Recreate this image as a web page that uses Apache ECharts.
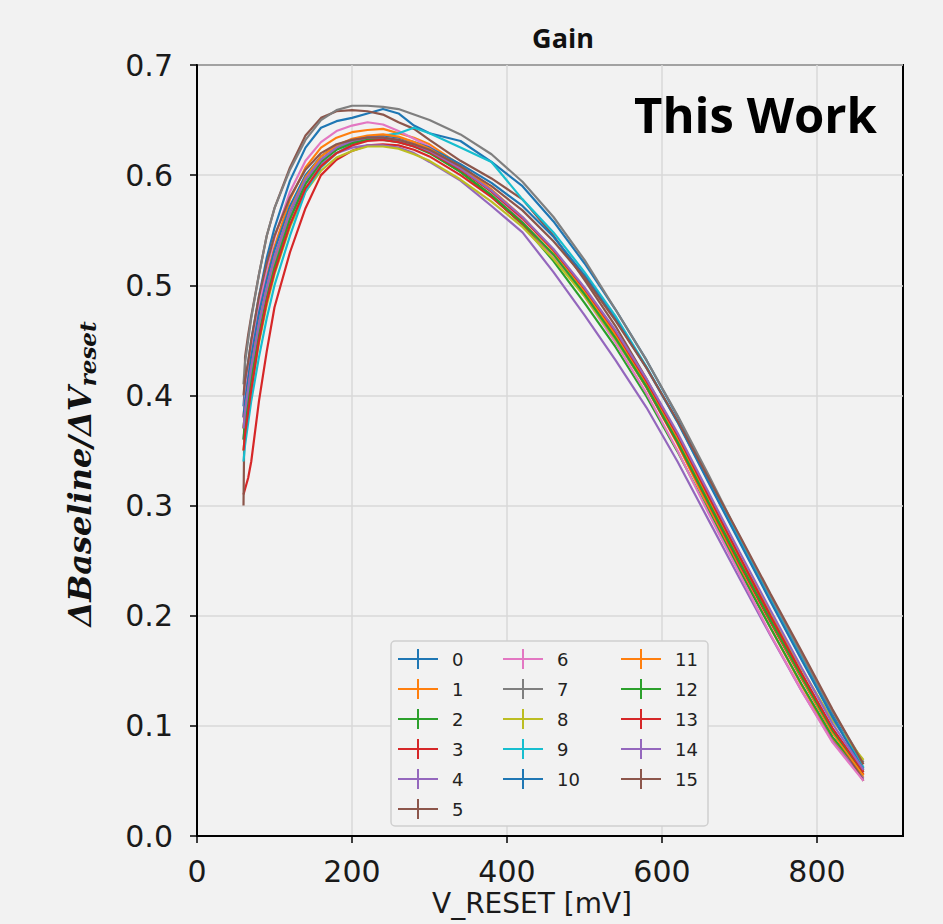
<!DOCTYPE html>
<html>
<head>
<meta charset="utf-8">
<title>Gain</title>
<script src="https://cdn.jsdelivr.net/npm/echarts@6/dist/echarts.min.js"></script>
<style>
  html, body { margin: 0; padding: 0; background: #f2f2f2; }
  #main { width: 943px; height: 924px; }
</style>
</head>
<body>
<div id="main"></div>
<script>
// V_RESET sweep [mV]
var vReset = [60, 62, 66, 70, 80, 90, 100, 120, 140, 160, 180, 200, 220, 240, 260, 280, 300,
              340, 380, 420, 460, 500, 540, 580, 620, 660, 700, 740, 780, 820, 860];

// gain per channel
var gain0  = [.39, .41, .43, .45, .49, .525, .552, .595, .625, .643, .649, .652, .656, .66, .656, .645, .638, .631, .612, .59, .558, .52, .478, .432, .381, .325, .27, .216, .163, .11, .062];
var gain1  = [.38, .395, .415, .435, .475, .508, .535, .578, .607, .625, .634, .639, .641, .642, .638, .634, .628, .609, .587, .562, .532, .495, .453, .408, .356, .299, .243, .189, .137, .088, .053];
var gain2  = [.37, .385, .405, .425, .465, .497, .525, .566, .596, .614, .624, .630, .633, .633, .631, .627, .621, .603, .581, .555, .522, .484, .444, .399, .349, .295, .241, .189, .138, .09, .055];
var gain3  = [.31, .315, .325, .34, .395, .44, .48, .53, .57, .60, .614, .622, .627, .628, .627, .623, .617, .60, .58, .556, .527, .492, .452, .407, .357, .302, .247, .194, .143, .094, .056];
var gain4  = [.36, .38, .40, .42, .46, .492, .52, .562, .592, .61, .62, .625, .627, .627, .625, .62, .612, .595, .572, .548, .512, .473, .432, .389, .34, .287, .234, .182, .132, .086, .052];
var gain5  = [.30, .435, .455, .472, .51, .545, .57, .607, .636, .652, .658, .659, .658, .655, .648, .642, .632, .613, .597, .578, .545, .505, .463, .415, .364, .308, .253, .199, .147, .097, .05];
var gain6  = [.38, .40, .42, .44, .48, .515, .543, .585, .613, .63, .64, .645, .648, .646, .64, .633, .626, .606, .585, .558, .527, .49, .448, .402, .35, .293, .238, .183, .132, .085, .05];
var gain7  = [.41, .43, .45, .47, .51, .545, .57, .605, .632, .65, .659, .663, .663, .662, .66, .655, .65, .637, .619, .594, .562, .523, .478, .432, .382, .328, .272, .218, .165, .113, .067];
var gain8  = [.35, .365, .385, .405, .448, .482, .51, .553, .585, .604, .616, .622, .626, .626, .624, .619, .613, .596, .576, .553, .524, .49, .451, .408, .36, .307, .254, .202, .152, .105, .069];
var gain9  = [.34, .355, .375, .395, .435, .47, .50, .545, .585, .607, .62, .628, .633, .636, .638, .643, .638, .625, .612, .578, .548, .512, .472, .426, .376, .322, .268, .214, .161, .108, .062];
var gain10 = [.38, .395, .415, .435, .475, .505, .532, .572, .60, .617, .627, .632, .635, .636, .634, .63, .625, .61, .593, .572, .544, .509, .469, .425, .376, .321, .267, .213, .16, .108, .06];
var gain11 = [.37, .385, .405, .425, .465, .497, .525, .568, .598, .617, .627, .633, .636, .637, .635, .63, .624, .607, .586, .561, .531, .495, .455, .41, .36, .305, .25, .196, .144, .094, .055];
var gain12 = [.36, .375, .395, .415, .455, .488, .516, .56, .592, .612, .623, .629, .632, .632, .63, .626, .62, .603, .582, .557, .528, .492, .452, .408, .358, .303, .249, .196, .145, .096, .058];
var gain13 = [.35, .365, .385, .405, .45, .485, .512, .555, .588, .608, .62, .627, .631, .632, .63, .626, .621, .605, .585, .561, .532, .497, .458, .413, .364, .309, .254, .20, .148, .098, .058];
var gain14 = [.37, .385, .405, .425, .465, .498, .526, .567, .596, .614, .625, .631, .634, .634, .632, .628, .622, .606, .586, .562, .533, .498, .459, .415, .366, .312, .258, .205, .153, .102, .06];
var gain15 = [.40, .415, .43, .45, .49, .52, .545, .58, .605, .62, .628, .632, .634, .634, .632, .628, .623, .608, .59, .568, .54, .507, .468, .425, .377, .325, .273, .22, .168, .115, .065];

var channels = ['0', '1', '2', '3', '4', '5', '6', '7', '8', '9', '10', '11', '12', '13', '14', '15'];
var gains = [gain0, gain1, gain2, gain3, gain4, gain5, gain6, gain7, gain8, gain9, gain10, gain11, gain12, gain13, gain14, gain15];
var xTicks = [0, 200, 400, 600, 800];

// matplotlib tab10
var colors = ['#1f77b4', '#ff7f0e', '#2ca02c', '#d62728', '#9467bd', '#8c564b', '#e377c2', '#7f7f7f', '#bcbd22', '#17becf'];

var myChart = echarts.init(document.getElementById('main'), null, { renderer: 'svg' });

var series = [];
for (var i = 0; i < channels.length; i++) {
    var pts = [];
    for (var j = 0; j < vReset.length; j++) {
        pts.push([vReset[j], gains[i][j]]);
    }
    series.push({
        name: channels[i],
        type: 'line',
        data: pts,
        showSymbol: false,
        symbol: 'none',
        color: colors[i % 10],
        lineStyle: { width: 2.2 },
        emphasis: { disabled: true },
        z: 2
    });
}

var plusIcon = 'path://M0,9L40,9L40,11L0,11Z M19,0L21,0L21,20L19,20Z';
var legendBase = {
    orient: 'vertical',
    top: 649,
    padding: 0,
    itemWidth: 40,
    itemHeight: 20,
    itemGap: 10,
    icon: plusIcon,
    selectedMode: false,
    z: 20,
    textStyle: { fontSize: 18, fontFamily: 'DejaVu Sans', color: '#222', padding: [0, 0, 0, 9] }
};

var option = {
    backgroundColor: '#f2f2f2',
    animation: false,
    textStyle: { fontFamily: 'DejaVu Sans' },
    title: [
        {
            text: 'Gain', left: 563, top: 24, textAlign: 'center', padding: 0,
            textStyle: { fontFamily: 'Open Sans', fontWeight: 'bold', fontSize: 27, color: '#111' }
        },
        {
            text: 'This Work', right: 66, top: 89, padding: 0,
            textStyle: { fontFamily: 'Open Sans', fontWeight: 'bold', fontSize: 49, color: '#000' }
        }
    ],
    legend: [
        Object.assign({ left: 398, data: channels.slice(0, 6) }, legendBase),
        Object.assign({ left: 503, data: channels.slice(6, 11) }, legendBase),
        Object.assign({ left: 621, data: channels.slice(11) }, legendBase)
    ],
    grid: {
        left: 197, top: 65, width: 706, height: 771,
        show: true, borderColor: '#000', borderWidth: 2, backgroundColor: 'transparent',
        containLabel: false
    },
    xAxis: {
        type: 'value', min: 0, max: 911, interval: 200,
        axisLine: { show: true, lineStyle: { color: '#000', width: 2 } },
        axisTick: { show: true, length: 7, lineStyle: { color: '#000', width: 1.5 }, customValues: xTicks },
        axisLabel: { fontSize: 30, color: '#1a1a1a', margin: 20, fontFamily: 'DejaVu Sans', customValues: xTicks },
        splitLine: { show: true, lineStyle: { color: '#d8d8d8', width: 1.5 } }
    },
    yAxis: {
        type: 'value', min: 0, max: 0.7, interval: 0.1,
        axisLine: { show: true, lineStyle: { color: '#000', width: 2 } },
        axisTick: { show: true, length: 7, lineStyle: { color: '#000', width: 1.5 } },
        axisLabel: {
            fontSize: 30, color: '#1a1a1a', margin: 24, fontFamily: 'DejaVu Sans',
            formatter: function (v) { return v.toFixed(1); }
        },
        splitLine: { show: true, lineStyle: { color: '#d8d8d8', width: 1.5 } }
    },
    graphic: [
        {
            type: 'rect', z: 15,
            shape: { x: 391, y: 641, width: 317, height: 185, r: 4 },
            style: { fill: '#f2f2f2', stroke: '#cfcfcf', lineWidth: 1.5 }
        },
        {
            type: 'text', x: 80, y: 474, rotation: Math.PI / 2, z: 20,
            style: {
                text: '{m|ΔBaseline/ΔV}{s|reset}',
                align: 'center', verticalAlign: 'middle',
                rich: {
                    m: { fontSize: 32, fontFamily: 'DejaVu Serif', fontStyle: 'italic', fontWeight: 'bold', fill: '#111', lineHeight: 38 },
                    s: { fontSize: 23, fontFamily: 'DejaVu Serif', fontStyle: 'italic', fontWeight: 'bold', fill: '#111', lineHeight: 23, verticalAlign: 'bottom' }
                }
            }
        },
        {
            type: 'text', x: 532, y: 889, z: 20,
            style: {
                text: 'V_RESET [mV]', align: 'center', verticalAlign: 'top',
                fontSize: 28, fontFamily: 'DejaVu Sans', fill: '#1a1a1a'
            }
        }
    ],
    series: series
};

if (option && typeof option === 'object') {
    myChart.setOption(option, true);
}
</script>
</body>
</html>
